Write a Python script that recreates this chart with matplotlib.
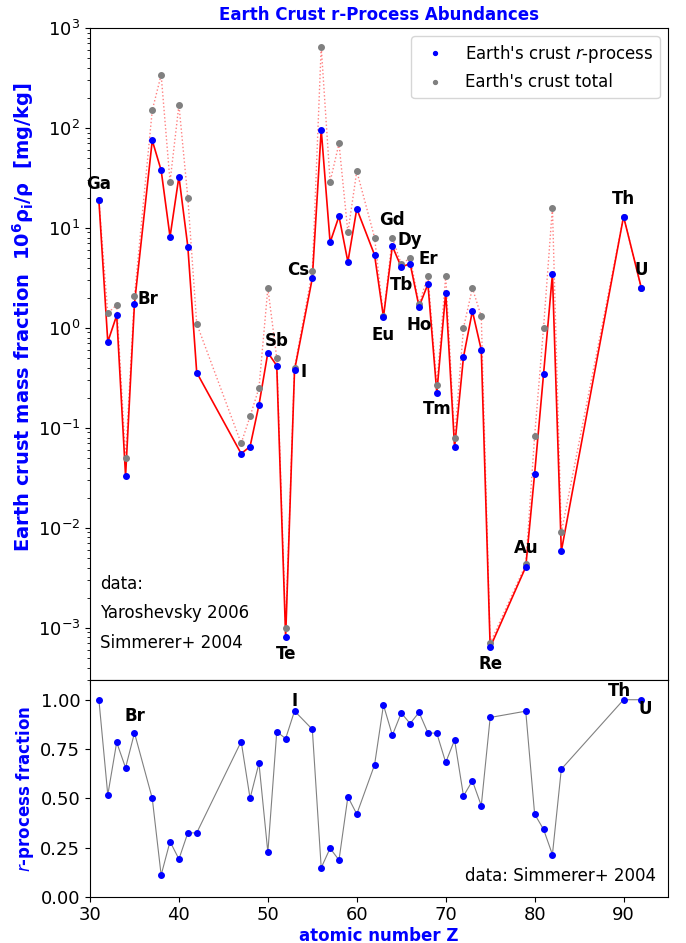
import numpy as np
import matplotlib
matplotlib.use("Agg")
import matplotlib.pyplot as plt

# Elementos (numero atomico Z) con datos de la corteza terrestre
Z = [31, 32, 33, 34, 35, 37, 38, 39, 40, 41, 42, 47, 48, 49, 50, 51, 52, 53,
     55, 56, 57, 58, 59, 60, 62, 63, 64, 65, 66, 67, 68, 69, 70, 71, 72, 73,
     74, 75, 79, 80, 81, 82, 83, 90, 92]
simbolos = ['Ga', 'Ge', 'As', 'Se', 'Br', 'Rb', 'Sr', 'Y', 'Zr', 'Nb', 'Mo',
            'Ag', 'Cd', 'In', 'Sn', 'Sb', 'Te', 'I', 'Cs', 'Ba', 'La', 'Ce',
            'Pr', 'Nd', 'Sm', 'Eu', 'Gd', 'Tb', 'Dy', 'Ho', 'Er', 'Tm', 'Yb',
            'Lu', 'Hf', 'Ta', 'W', 'Re', 'Au', 'Hg', 'Tl', 'Pb', 'Bi', 'Th', 'U']

# Abundancia total en la corteza [mg/kg] (Yaroshevsky 2006)
total = [18.9, 1.40, 1.70, 0.050, 2.10, 150, 340, 29, 170, 20, 1.1,
         0.070, 0.13, 0.25, 2.5, 0.50, 0.001, 0.40, 3.7, 650, 29, 70,
         9.0, 37, 8.0, 1.32, 8.0, 4.35, 5.0, 1.74, 3.3, 0.27, 3.3,
         0.080, 1.0, 2.5, 1.3, 0.0007, 0.0043, 0.083, 1.0, 16, 0.009, 13, 2.5]

# Fraccion r-process (Simmerer+ 2004)
frac_r = [1.00, 0.517, 0.784, 0.655, 0.832, 0.50, 0.111, 0.281, 0.192, 0.325,
          0.325, 0.788, 0.50, 0.678, 0.226, 0.838, 0.803, 0.943, 0.85, 0.148,
          0.247, 0.187, 0.508, 0.42, 0.67, 0.973, 0.82, 0.933, 0.879, 0.936,
          0.832, 0.83, 0.682, 0.796, 0.512, 0.589, 0.463, 0.91, 0.942, 0.42,
          0.343, 0.215, 0.648, 1.0, 1.0]

# Etiquetas del panel superior: simbolo -> (dx, dy en puntos, alineacion)
etiquetas_sup = {'Ga': (0, 11.5, 'center'), 'Br': (2, 3, 'left'),
                 'Sb': (0, 18, 'center'), 'Te': (0, -12, 'center'),
                 'I': (4, -1, 'left'), 'Cs': (-2, 5.5, 'right'),
                 'Eu': (0, -13, 'center'), 'Gd': (0, 18.7, 'center'),
                 'Tb': (0, -13, 'center'), 'Dy': (0, 16.8, 'center'),
                 'Ho': (0, -13, 'center'), 'Er': (0, 17.8, 'center'),
                 'Tm': (0, -12, 'center'), 'Re': (0, -12, 'center'),
                 'Au': (0, 13.9, 'center'), 'Th': (0, 12.5, 'center'),
                 'U': (0, 12.7, 'center')}
# Etiquetas del panel inferior
etiquetas_inf = {'Br': (0, 12.2), 'I': (0, 7.2), 'Th': (-3, 6.5), 'U': (3, -7)}

Z = np.array(Z)
total = np.array(total)
frac_r = np.array(frac_r)
rproc = total * frac_r

fig = plt.figure(figsize=(6.86, 9.43), dpi=100)
ax1 = fig.add_axes([0.1312, 0.2789, 0.8426, 0.6914])
ax2 = fig.add_axes([0.1312, 0.0488, 0.8426, 0.2301], sharex=ax1)

# Panel superior
ax1.plot(Z, total, ':', color='red', alpha=0.5, lw=1.0)
ax1.plot(Z, rproc, '-', color='red', lw=1.2)
ax1.plot(Z, total, 'o', color='gray', ms=4, label="Earth's crust total", zorder=3)
ax1.plot(Z, rproc, 'o', color='blue', ms=4, label="Earth's crust $r$-process", zorder=4)
ax1.set_yscale('log')
ax1.set_ylim(3e-4, 1e3)
ax1.set_xlim(30, 95)

for z, s, r in zip(Z, simbolos, rproc):
    if s in etiquetas_sup:
        dx, dy, ha = etiquetas_sup[s]
        ax1.annotate(s, (z, r), xytext=(dx, dy), textcoords='offset points',
                     ha=ha, va='center', fontsize=12, fontweight='bold')

h, l = ax1.get_legend_handles_labels()
ax1.legend(h[::-1], l[::-1], loc='upper right', fontsize=12, markerscale=0.7)

ax1.text(0.017, 0.148, 'data:', transform=ax1.transAxes, fontsize=12, va='center')
ax1.text(0.017, 0.1035, 'Yaroshevsky 2006', transform=ax1.transAxes, fontsize=12, va='center')
ax1.text(0.017, 0.0575, 'Simmerer+ 2004', transform=ax1.transAxes, fontsize=12, va='center')

ax1.set_title('Earth Crust r-Process Abundances', color='blue', fontweight='bold', fontsize=12)
ax1.set_ylabel(r'Earth crust mass fraction  10$^\mathbf{6}$ρ$_\mathbf{i}$/ρ  [mg/kg]',
               color='blue', fontweight='bold', fontsize=14)
ax1.yaxis.set_label_coords(-0.094, 0.557)
ax1.tick_params(labelsize=13, labelbottom=False)

# Panel inferior
ax2.plot(Z, frac_r, '-', color='gray', lw=0.8)
ax2.plot(Z, frac_r, 'o', color='blue', ms=4)
ax2.set_ylim(0, 1.1)
ax2.set_yticks([0, 0.25, 0.5, 0.75, 1.0])
for z, s, f in zip(Z, simbolos, frac_r):
    if s in etiquetas_inf:
        dx, dy = etiquetas_inf[s]
        ax2.annotate(s, (z, f), xytext=(dx, dy), textcoords='offset points',
                     ha='center', va='center', fontsize=12, fontweight='bold')
ax2.text(0.979, 0.097, 'data: Simmerer+ 2004', transform=ax2.transAxes,
         fontsize=12, ha='right', va='center')
ax2.set_xlabel('atomic number Z', color='blue', fontweight='bold', fontsize=12, labelpad=2)
ax2.set_ylabel('$r$-process fraction', color='blue', fontweight='bold', fontsize=12)
ax2.yaxis.set_label_coords(-0.094, 0.5)
ax2.tick_params(labelsize=13)
ax2.tick_params(axis='x', pad=3)

fig.savefig('out.png', dpi=100)
